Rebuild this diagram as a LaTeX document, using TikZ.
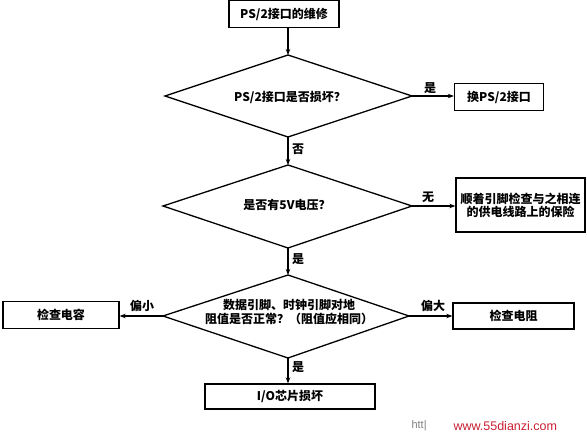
\documentclass[tikz,border=0pt]{standalone}
\usepackage{fontspec}
\setmainfont{Noto Sans CJK SC}
\newfontfamily\wmfont{Liberation Sans}
\usetikzlibrary{arrows.meta,shapes.geometric}
\begin{document}
\begin{tikzpicture}[x=1pt,y=-1pt,
  font=\fontsize{12}{14}\selectfont\bfseries,
  box/.style={draw,line width=1.3pt,inner sep=0pt},
  dia/.style={draw,line width=1.3pt,line join=miter},
  conn/.style={line width=1.1pt,-{Stealth[length=6pt,width=4.5pt]}},
  lbl/.style={inner sep=1pt}]
\useasboundingbox (0,0) rectangle (587,438);
% boxes
\node[box,minimum width=110pt,minimum height=27pt] (start) at (284,14) {PS/2接口的维修};
\node[box,minimum width=89pt,minimum height=27pt] (swap) at (499,97) {换PS/2接口};
\node[box,minimum width=129pt,minimum height=54pt,align=center] (fuse) at (520.5,205) {顺着引脚检查与之相连\\[-1pt]的供电线路上的保险};
\node[box,minimum width=116pt,minimum height=27pt] (cap) at (61,315) {检查电容};
\node[box,minimum width=121pt,minimum height=26pt] (res) at (513.5,316) {检查电阻};
\node[box,minimum width=170pt,minimum height=25pt] (io) at (290,396.5) {I/O芯片损坏};
% diamonds
\draw[dia] (165,96) coordinate (d1l) -- (288,55) coordinate (d1t) -- (412,96) coordinate (d1r) -- (288,137) coordinate (d1b) -- cycle;
\node (d1) at (290,97) {PS/2接口是否损坏？};
\draw[dia] (163,206) coordinate (d2l) -- (288,165) coordinate (d2t) -- (412,206) coordinate (d2r) -- (288,248) coordinate (d2b) -- cycle;
\node (d2) at (287,205) {是否有5V电压？};
\draw[dia] (163,316) coordinate (d3l) -- (288,275) coordinate (d3t) -- (409,316) coordinate (d3r) -- (288,358) coordinate (d3b) -- cycle;
\node[align=center] (d3) at (289,312) {数据引脚、时钟引脚对地\\[0pt]阻值是否正常？（阻值应相同）};
% connectors
\draw[conn] (start.south -| d1t) -- (d1t);
\draw[conn] (d1r) -- (swap.west |- d1r);
\draw[conn] (d1b) -- (d2t);
\draw[conn] (d2r) -- (fuse.west |- d2r);
\draw[conn] (d2b) -- (d3t);
\draw[conn] (d3l) -- (cap.east |- d3l);
\draw[conn] (d3r) -- (res.west |- d3r);
\draw[conn] (d3b) -- (io.north -| d3b);
% labels
\node[lbl] (l1) at (430,88) {是};
\node[lbl] (l2) at (298,149) {否};
\node[lbl] (l3) at (428,197) {无};
\node[lbl] (l4) at (298,259) {是};
\node[lbl] (l5) at (142,306) {偏小};
\node[lbl] (l6) at (433,306) {偏大};
\node[lbl] (l7) at (298,367) {是};
% watermark
\node[font=\wmfont\fontsize{11}{12}\selectfont,text=gray,anchor=west] (wm1) at (408,426) {htt|};
\node[font=\wmfont\fontsize{12.5}{12}\selectfont,text={rgb,255:red,200;green,30;blue,50},anchor=west] (wm2) at (450,426) {www.55dianzi.com};
\end{tikzpicture}
\end{document}
